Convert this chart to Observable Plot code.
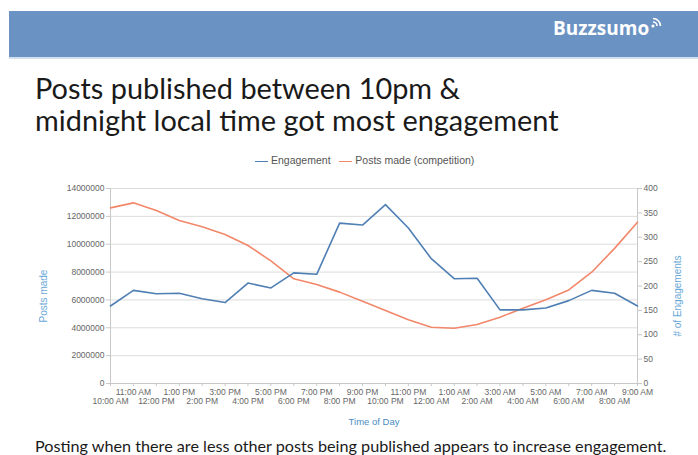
<!DOCTYPE html>
<html>
<head>
<meta charset="utf-8">
<script src="https://cdn.jsdelivr.net/npm/d3@7"></script>
<script src="https://cdn.jsdelivr.net/npm/@observablehq/plot@0.6"></script>
<style>
  body { margin: 0; background: #fff; width: 698px; height: 455px; position: relative; overflow: hidden; }
  .band { position: absolute; left: 9px; top: 11px; width: 689px; height: 46px; background: #6a93c3; border-bottom: 2px solid #d3e0ee; }
  .logo { position: absolute; left: 553px; top: 15px; color: #fff; font: bold 19px "Open Sans", sans-serif; letter-spacing: 0px; }
  .title { position: absolute; left: 35px; top: 72px; font: 28.9px Lato, "Open Sans", sans-serif; color: #1a1a1a; line-height: 32px; }
  .legend { position: absolute; top: 154px; left: 255px; font: 10.5px "Liberation Sans", Arial, sans-serif; color: #555; white-space: nowrap; }
  .legend span.sw { display: inline-block; width: 13px; height: 0; border-top: 1.5px solid; vertical-align: middle; margin-right: 3px; }
  .caption { position: absolute; left: 35px; top: 436px; font: 16.2px Lato, "Open Sans", sans-serif; color: #1a1a1a; white-space: nowrap; }
  #chart { position: absolute; left: 0; top: 180px; }
</style>
</head>
<body>
<div class="band"></div>
<div class="logo">Buzzsumo<svg width="14" height="14" viewBox="0 0 14 14" style="vertical-align:top;margin-left:1px"><circle cx="3" cy="11" r="1.6" fill="#fff"/><path d="M3 7 A4 4 0 0 1 7 11" stroke="#fff" stroke-width="1.6" fill="none"/><path d="M3 3.5 A7.5 7.5 0 0 1 10.5 11" stroke="#fff" stroke-width="1.6" fill="none"/></svg></div>
<div class="title">Posts published between 10pm &amp;<br>midnight local time got most engagement</div>
<div class="legend"><span class="sw" style="border-color:#4f7fb3"></span>Engagement&nbsp;&nbsp;&nbsp;<span class="sw" style="border-color:#f2876a"></span>Posts made (competition)</div>
<div id="chart"></div>
<div class="caption">Posting when there are less other posts being published appears to increase engagement.</div>
<script>
const hourLabels = ["10:00 AM","11:00 AM","12:00 PM","1:00 PM","2:00 PM","3:00 PM","4:00 PM","5:00 PM","6:00 PM","7:00 PM","8:00 PM","9:00 PM","10:00 PM","11:00 PM","12:00 AM","1:00 AM","2:00 AM","3:00 AM","4:00 AM","5:00 AM","6:00 AM","7:00 AM","8:00 AM","9:00 AM"];
const engagement = [159,191,184,185,174,166,206,196,227,224,329,325,367,319,256,215,216,151,151,155,170,191,185,159];
const postsMade = [12610000,12970000,12420000,11700000,11250000,10700000,9910000,8800000,7520000,7110000,6560000,5910000,5240000,4570000,4040000,3970000,4240000,4760000,5410000,6010000,6720000,7990000,9700000,11580000];
const leftTicks = [0,2000000,4000000,6000000,8000000,10000000,12000000,14000000];
const rightTicks = [0,50,100,150,200,250,300,350,400];

const k = 14000000 / 400;
const rows = hourLabels.map((h, i) => ({i, h, e: engagement[i] * k, p: postsMade[i]}));
const idx = d3.range(hourLabels.length);
const oddIdx = idx.filter(i => i % 2 === 1);
const evenIdx = idx.filter(i => i % 2 === 0);

const chart = Plot.plot({
  width: 698, height: 250,
  marginLeft: 110, marginRight: 61, marginTop: 8, marginBottom: 47,
  style: {fontFamily: "'Liberation Sans', Arial, sans-serif", fontSize: "8.5px", color: "#666", background: "transparent"},
  x: {type: "linear", domain: [0, 23]},
  y: {domain: [0, 14000000]},
  marks: [
    Plot.gridY(leftTicks, {stroke: "#dcdcdc", strokeOpacity: 1}),
    Plot.ruleX([0, 23], {stroke: "#c8c8c8"}),
    Plot.ruleY([0], {stroke: "#c8c8c8"}),
    Plot.axisX(idx, {tickSize: 3, tickFormat: () => "", stroke: "#c8c8c8", label: null}),
    Plot.axisY(leftTicks, {anchor: "left", tickSize: 4, tickPadding: 2, tickFormat: d3.format("d"), stroke: "#c8c8c8", fill: "#666", label: null}),
    Plot.axisY(rightTicks.map(v => v * k), {anchor: "right", tickSize: 4, tickPadding: 2, tickFormat: d => String(Math.round(d / k)), stroke: "#c8c8c8", fill: "#666", label: null}),
    Plot.axisX(oddIdx, {tickSize: 0, tickPadding: 5, tickFormat: i => hourLabels[i], fill: "#666", label: null}),
    Plot.axisX(evenIdx, {tickSize: 0, tickPadding: 14, tickFormat: i => hourLabels[i], fill: "#666", label: null}),
    Plot.line(rows, {x: "i", y: "p", stroke: "#f2876a", strokeWidth: 1.6}),
    Plot.line(rows, {x: "i", y: "e", stroke: "#4f7fb3", strokeWidth: 1.6}),
    Plot.text(["Time of Day"], {frameAnchor: "bottom", textAnchor: "middle", lineAnchor: "middle", dy: 38, fill: "#4a8cc4", fontSize: 9.5, text: d => d}),
    Plot.text(["Posts made"], {frameAnchor: "left", textAnchor: "middle", lineAnchor: "middle", dx: -67, dy: 10, rotate: -90, fill: "#6aa8d6", fontSize: 10, text: d => d}),
    Plot.text(["# of Engagements"], {frameAnchor: "right", textAnchor: "middle", lineAnchor: "middle", dx: 40, dy: 10, rotate: -90, fill: "#6aa8d6", fontSize: 10, text: d => d})
  ]
});
document.getElementById("chart").appendChild(chart);
</script>
</body>
</html>
